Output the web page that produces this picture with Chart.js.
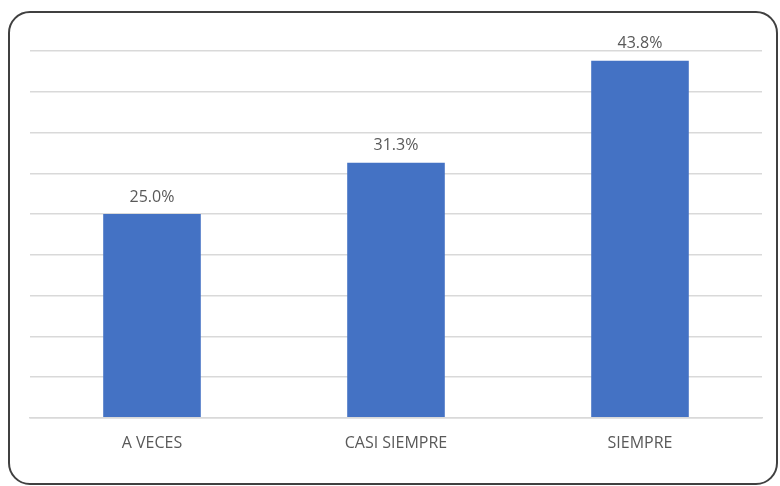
<!DOCTYPE html>
<html>
<head>
<meta charset="utf-8">
<script src="https://cdn.jsdelivr.net/npm/chart.js@4"></script>
<style>
  body { margin: 0; background: #fff; }
  #wrap { position: relative; width: 780px; height: 486px; }
  #frame {
    position: absolute; left: 8px; top: 11px; width: 766px; height: 470px;
    border: 2px solid #404040; border-radius: 22px; pointer-events: none;
  }
</style>
</head>
<body>
<div id="wrap">
  <canvas id="chart" width="780" height="486"></canvas>
  <div id="frame"></div>
</div>
<script>
const categorias = ['A VECES', 'CASI SIEMPRE', 'SIEMPRE'];
const porcentajes = [25.0, 31.3, 43.8];

// etiquetas encima de cada barra
const etiquetasBarras = {
    id: 'etiquetasBarras',
    afterDatasetsDraw(chart) {
        const ctx = chart.ctx;
        const meta = chart.getDatasetMeta(0);
        ctx.save();
        ctx.font = '16px "Open Sans"';
        ctx.fillStyle = '#595959';
        ctx.textAlign = 'center';
        ctx.textBaseline = 'bottom';
        meta.data.forEach((bar, i) => {
            ctx.fillText(porcentajes[i].toFixed(1) + '%', bar.x, bar.y - 9);
        });
        ctx.restore();
    }
};

const ctx = document.getElementById('chart').getContext('2d');
new Chart(ctx, {
    type: 'bar',
    data: {
        labels: categorias,
        datasets: [{
            data: porcentajes,
            backgroundColor: '#4472c4',
            categoryPercentage: 1,
            barPercentage: 0.4
        }]
    },
    options: {
        responsive: false,
        animation: false,
        layout: { padding: { left: 30, right: 18, top: 51, bottom: 25 } },
        scales: {
            y: {
                min: 0, max: 45,
                ticks: { display: false, stepSize: 5 },
                grid: { color: '#d9d9d9', lineWidth: 1.5, drawTicks: false },
                border: { display: false }
            },
            x: {
                grid: { display: false },
                border: { color: '#d9d9d9', width: 1.5 },
                ticks: { color: '#595959', font: { family: 'Open Sans', size: 16 }, padding: 8 }
            }
        },
        plugins: { legend: { display: false }, tooltip: { enabled: false } }
    },
    plugins: [etiquetasBarras]
});
</script>
</body>
</html>
